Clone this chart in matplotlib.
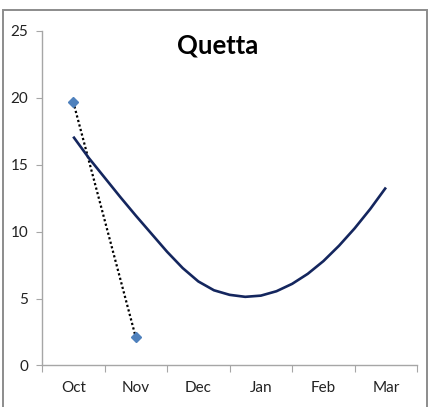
import numpy as np
import matplotlib.pyplot as plt
from matplotlib.patches import Rectangle

months = ["Oct", "Nov", "Dec", "Jan", "Feb", "Mar"]

# observed values (two months only)
obs_x = [0, 1]
obs_vals = [19.7, 2.1]

# trend curve, sampled every quarter month from Oct to Mar
trend_x = [0.0, 0.25, 0.5, 0.75, 1.0, 1.25, 1.5, 1.75, 2.0, 2.25, 2.5,
           2.75, 3.0, 3.25, 3.5, 3.75, 4.0, 4.25, 4.5, 4.75, 5.0]
trend_vals = [17.1, 15.5, 14.05, 12.6, 11.2, 9.85, 8.5, 7.28, 6.28, 5.62, 5.28,
              5.13, 5.22, 5.55, 6.1, 6.85, 7.8, 8.95, 10.25, 11.7, 13.3]

plt.rcParams["font.family"] = ["Lato", "DejaVu Sans"]

fig = plt.figure(figsize=(4.31, 4.07), dpi=100)
ax = fig.add_axes([0.0974, 0.102, 0.8706, 0.822])

ax.plot(trend_x, trend_vals, color="#14265e", lw=1.9,
        solid_joinstyle="round", solid_capstyle="butt", zorder=3)
ax.plot(obs_x, obs_vals, color="black", lw=1.6, linestyle=(0, (1, 1.1)), zorder=2)
ax.plot(obs_x, obs_vals, linestyle="none", marker="D", ms=5.5,
        color="#4f81bd", zorder=4)

ax.set_xlim(-0.5, 5.5)
ax.set_ylim(0, 25)
ax.set_yticks([0, 5, 10, 15, 20, 25])
ax.set_xticks(np.arange(-0.5, 6, 1))
ax.set_xticklabels([])
ax.set_xticks(range(len(months)), minor=True)
ax.set_xticklabels(months, minor=True)

axis_grey = "#a6a6a6"
for side in ("top", "right"):
    ax.spines[side].set_visible(False)
for side in ("left", "bottom"):
    ax.spines[side].set_color(axis_grey)
    ax.spines[side].set_linewidth(1.0)

ax.tick_params(axis="y", which="major", direction="out", length=4, color=axis_grey,
               labelsize=11, pad=6, labelcolor="#222222")
ax.tick_params(axis="x", which="major", direction="out", length=5, color=axis_grey)
ax.tick_params(axis="x", which="minor", length=0, labelsize=11, pad=11,
               labelcolor="#222222")

fig.text(0.504, 0.888, "Quetta", ha="center", va="center", fontsize=18.5,
         fontweight="bold", color="black")

# chart border
fig.patches.append(Rectangle((3 / 431, -0.05), 424 / 431, 1.05 - 10 / 407,
                             transform=fig.transFigure, fill=False,
                             edgecolor="#8c8c8c", lw=1.4))

fig.savefig("out.png", dpi=100)
